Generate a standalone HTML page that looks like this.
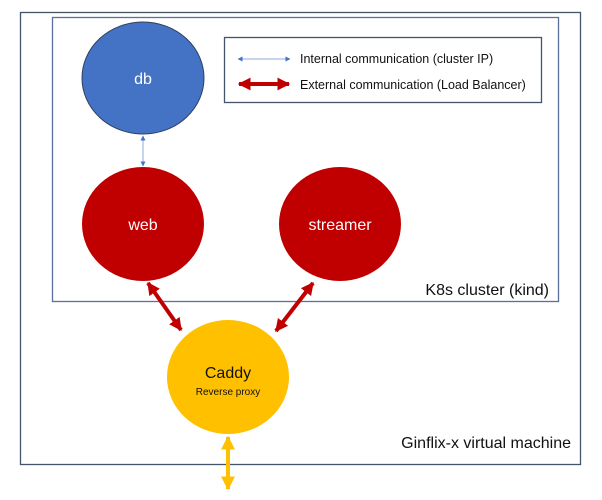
<!DOCTYPE html>
<html><head><style>
body{margin:0;background:#fff;}
svg text{font-family:"Liberation Sans",sans-serif;}
</style></head><body>
<svg width="602" height="495" viewBox="0 0 602 495" xmlns="http://www.w3.org/2000/svg">
<defs>
<marker id="bh" viewBox="0 0 10 10" refX="9" refY="5" markerWidth="5" markerHeight="5" orient="auto-start-reverse"><path d="M0,0L10,5L0,10z" fill="#4472c4"/></marker>
<marker id="rh" viewBox="0 0 10 10" refX="9" refY="5" markerWidth="3.2" markerHeight="3.2" orient="auto-start-reverse"><path d="M0,0L10,5L0,10z" fill="#c00000"/></marker>
<marker id="yh" viewBox="0 0 10 10" refX="9" refY="5" markerWidth="3.5" markerHeight="3.5" orient="auto-start-reverse"><path d="M0,0L10,5L0,10z" fill="#ffc000"/></marker>
</defs>
<rect x="20.5" y="12.5" width="560" height="452" fill="none" stroke="#44546a" stroke-width="1.3"/>
<rect x="52.5" y="17.5" width="506" height="284" fill="none" stroke="#5a6f99" stroke-width="1.3"/>
<rect x="224.5" y="37.5" width="317" height="65" fill="none" stroke="#44546a" stroke-width="1.3"/>
<line x1="238" y1="59" x2="290" y2="59" stroke="#8faadc" stroke-width="1" marker-start="url(#bh)" marker-end="url(#bh)"/>
<line x1="239" y1="84" x2="289" y2="84" stroke="#c00000" stroke-width="4" marker-start="url(#rh)" marker-end="url(#rh)"/>
<text x="300" y="63" font-size="12.5" fill="#111">Internal communication (cluster IP)</text>
<text x="300" y="89" font-size="12.5" fill="#111">External communication (Load Balancer)</text>
<ellipse cx="143" cy="78" rx="61" ry="56" fill="#4472c4" stroke="#2f3f60" stroke-width="1"/>
<text x="143" y="84" font-size="16" fill="#fff" text-anchor="middle">db</text>
<line x1="143" y1="136" x2="143" y2="166" stroke="#8faadc" stroke-width="1" marker-start="url(#bh)" marker-end="url(#bh)"/>
<ellipse cx="143" cy="224" rx="61" ry="57" fill="#c00000"/>
<text x="143" y="230" font-size="16" fill="#fff" text-anchor="middle">web</text>
<ellipse cx="340" cy="224" rx="61" ry="57" fill="#c00000"/>
<text x="340" y="230" font-size="16" fill="#fff" text-anchor="middle">streamer</text>
<text x="549" y="295" font-size="16" fill="#111" text-anchor="end">K8s cluster (kind)</text>
<line x1="148" y1="283" x2="181" y2="330" stroke="#c00000" stroke-width="4" marker-start="url(#rh)" marker-end="url(#rh)"/>
<line x1="313" y1="283" x2="276" y2="331" stroke="#c00000" stroke-width="4" marker-start="url(#rh)" marker-end="url(#rh)"/>
<ellipse cx="228" cy="377" rx="61" ry="57" fill="#ffc000"/>
<text x="228" y="378" font-size="16" fill="#111" text-anchor="middle">Caddy</text>
<text x="228" y="395" font-size="10" fill="#111" text-anchor="middle">Reverse proxy</text>
<text x="571" y="448" font-size="16" fill="#111" text-anchor="end">Ginflix-x virtual machine</text>
<line x1="228" y1="437" x2="228" y2="489" stroke="#ffc000" stroke-width="4" marker-start="url(#yh)" marker-end="url(#yh)"/>
</svg>
</body></html>
